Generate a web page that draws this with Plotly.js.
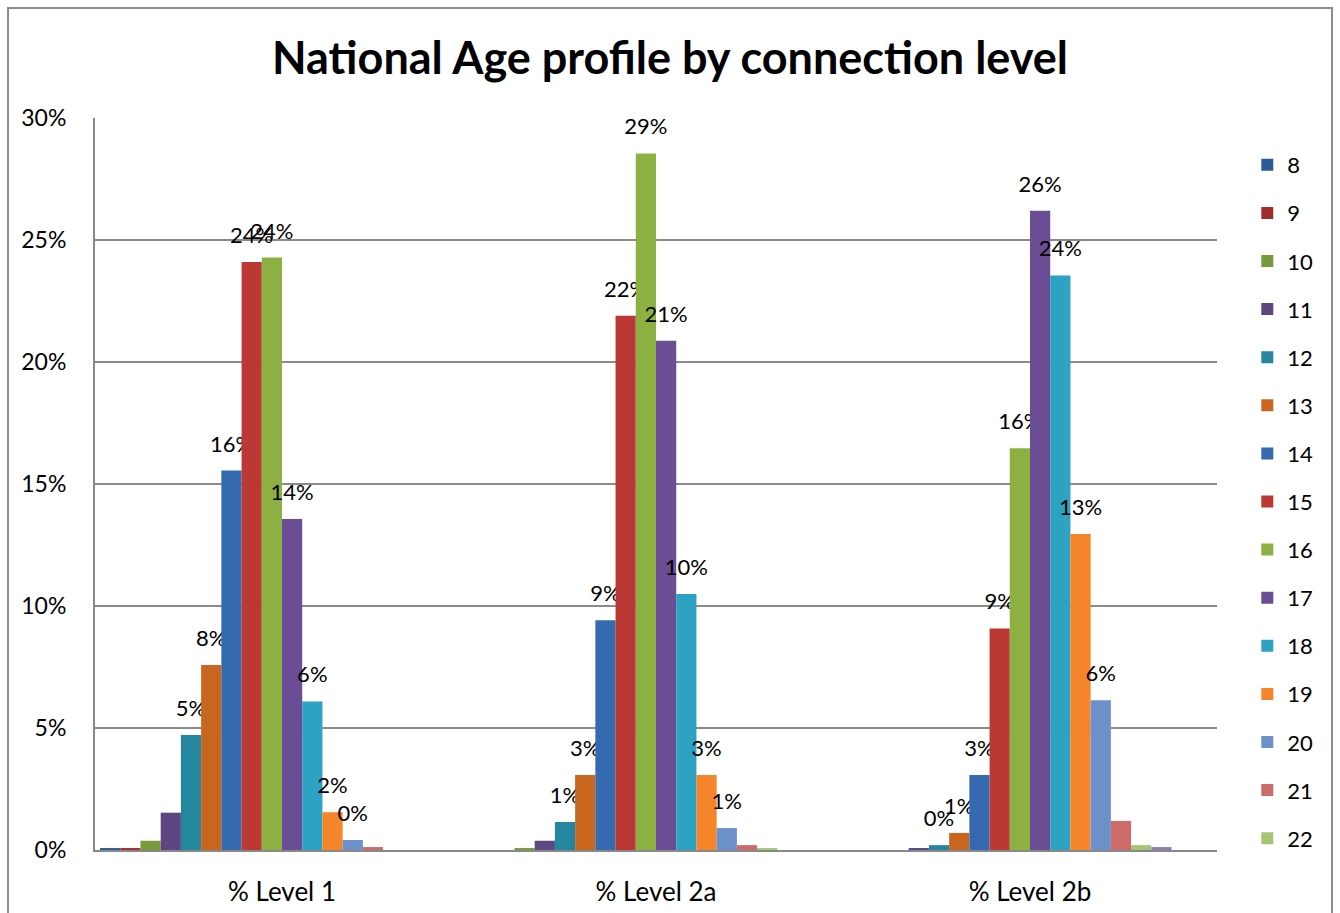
<!DOCTYPE html>
<html>
<head>
<meta charset="utf-8">
<script src="https://cdn.plot.ly/plotly-3.0.1.min.js"></script>
<style>
html,body{margin:0;padding:0;background:#fff;overflow:hidden;}
#wrap{position:relative;width:1340px;height:913px;}
#chart{position:absolute;left:0;top:0;width:1340px;height:913px;}
#frame{position:absolute;left:7px;top:7px;width:1326px;height:940px;border:2px solid #8c8c8c;pointer-events:none;box-sizing:border-box;}
</style>
</head>
<body>
<div id="wrap"><div id="chart"></div><div id="frame"></div></div>
<script>
// Categories (x axis)
const categories = ["% Level 1", "% Level 2a", "% Level 2b"];
// Series names (age)
const seriesNames = ["8","9","10","11","12","13","14","15","16","17","18","19","20","21","22","23","24","25"];
// Values per series, one value per category (fractions)
const s8  = [0.0008, 0.0000, 0.0000];
const s9  = [0.0008, 0.0000, 0.0000];
const s10 = [0.0038, 0.0008, 0.0000];
const s11 = [0.0153, 0.0038, 0.0008];
const s12 = [0.0471, 0.0115, 0.0020];
const s13 = [0.0758, 0.0307, 0.0070];
const s14 = [0.1555, 0.0942, 0.0307];
const s15 = [0.2410, 0.2190, 0.0908];
const s16 = [0.2428, 0.2855, 0.1647];
const s17 = [0.1357, 0.2087, 0.2620];
const s18 = [0.0609, 0.1049, 0.2355];
const s19 = [0.0155, 0.0307, 0.1295];
const s20 = [0.0041, 0.0090, 0.0614];
const s21 = [0.0012, 0.0020, 0.0119];
const s22 = [0.0000, 0.0008, 0.0020];
const s23 = [0.0000, 0.0000, 0.0012];
const s24 = [0.0000, 0.0000, 0.0000];
const s25 = [0.0000, 0.0000, 0.0000];
const seriesValues = [s8,s9,s10,s11,s12,s13,s14,s15,s16,s17,s18,s19,s20,s21,s22,s23,s24,s25];
// Series that carry data labels
const labelledSeries = ["12","13","14","15","16","17","18","19","20"];
// Series listed in the legend
const legendSeries = ["8","9","10","11","12","13","14","15","16","17","18","19","20","21","22"];

const colors = ["#2C5B97","#9E2F2C","#779A3A","#5D4682","#25879F","#C8661F",
                "#3569B0","#BC3835","#8DB043","#6B4D96","#2DA2C2","#F5852A",
                "#6C90CA","#CC6B69","#A6C575","#8E7CB1","#7CCBE0","#F9B27C"];

const FONT = "Lato, 'Open Sans', sans-serif";
// invisible wide-descent spacer that lifts the outside labels a little above the bars
const PAD = "<span style='font-size:74px'>\u00A0</span>";

const traces = seriesNames.map((name, i) => {
  const lab = labelledSeries.includes(name);
  return {
    type: "bar",
    name: name,
    x: categories,
    y: seriesValues[i],
    marker: {color: colors[i], line: {width: 0}},
    legendgroup: "g" + name,
    showlegend: legendSeries.includes(name),
    texttemplate: lab ? PAD + "%{y:.0%}" + PAD : "",
    textposition: lab ? "outside" : "none",
    textfont: {family: FONT, size: 22, color: "#000"},
    constraintext: "none",
    cliponaxis: false,
    hoverinfo: "name+y"
  };
});

const layout = {
  width: 1340, height: 913,
  paper_bgcolor: "rgba(0,0,0,0)",
  plot_bgcolor: "#fff",
  margin: {l: 95, r: 123, t: 118, b: 63, pad: 0},
  font: {family: FONT, color: "#000"},
  title: {
    text: "<b>National Age profile by connection level</b>",
    font: {family: FONT, size: 45, color: "#000"},
    x: 0.5, xref: "container", xanchor: "center",
    y: 1 - 58/913, yref: "container", yanchor: "middle"
  },
  barmode: "group",
  bargap: 0.027,
  bargroupgap: 0,
  xaxis: {
    type: "category",
    showline: true, linecolor: "#888", linewidth: 2,
    showgrid: false, ticks: "", zeroline: false,
    tickfont: {family: FONT, size: 26, color: "#000"},
    ticklabelstandoff: 18
  },
  yaxis: {
    range: [0, 0.30], dtick: 0.05, tickformat: ".0%",
    showline: true, linecolor: "#888", linewidth: 2,
    showgrid: true, gridcolor: "#8a8a8a", gridwidth: 1.5,
    zeroline: false, ticks: "",
    tickfont: {family: FONT, size: 23, color: "#000"},
    ticklabelstandoff: 22
  },
  legend: {
    x: 1.027, xanchor: "left", xref: "paper",
    y: 1 - 26/732, yanchor: "top", yref: "paper",
    font: {family: FONT, size: 22, color: "#000"},
    tracegroupgap: 16.5,
    itemwidth: 30,
    maxheight: 850,
    bgcolor: "rgba(0,0,0,0)",
    borderwidth: 0
  },
  showlegend: true
};

Plotly.newPlot("chart", traces, layout, {displayModeBar: false, staticPlot: true});
</script>
</body>
</html>
